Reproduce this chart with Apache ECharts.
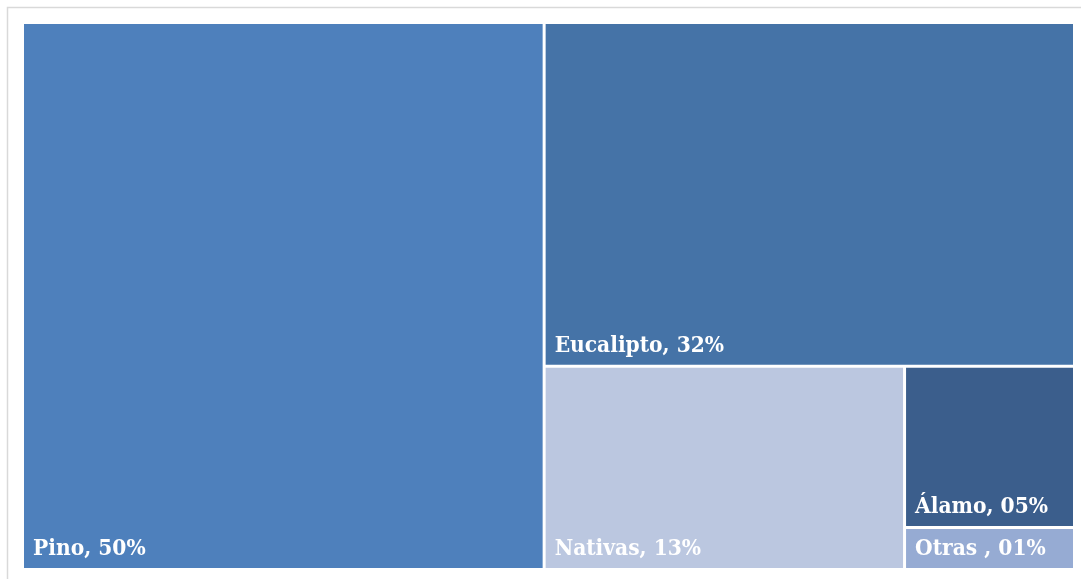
<!DOCTYPE html>
<html>
<head>
<meta charset="utf-8">
<script src="https://cdn.jsdelivr.net/npm/echarts@6/dist/echarts.min.js"></script>
<style>
  html, body { margin: 0; padding: 0; background: #fff; }
  #chart { width: 1081px; height: 579px; }
</style>
</head>
<body>
<div id="chart"></div>
<script>
// superficie por especie
const species = ['Pino', 'Eucalipto', 'Nativas', 'Álamo', 'Otras ']
const shares = [47.9, 30.6, 12.3, 4.6, 1.2]
const labels = ['50%', '32%', '13%', '05%', '01%']
const colors = ['#4e80bc', '#4573a7', '#bbc7e0', '#3b5e8c', '#96abd3']

const myChart = echarts.init(document.getElementById('chart'))

const data = species.map((name, i) => ({
  name: name,
  value: shares[i],
  pct: labels[i],
  itemStyle: { color: colors[i] }
}))

myChart.setOption({
  animation: false,
  graphic: [{
    type: 'rect',
    shape: { x: 7.5, y: 7.5, width: 1090, height: 600 },
    style: { fill: 'none', stroke: '#d9d9d9', lineWidth: 1.5 },
    silent: true
  }],
  series: [{
    type: 'treemap',
    left: 24,
    top: 24,
    width: 1049,
    height: 544,
    squareRatio: 1,
    roam: false,
    nodeClick: false,
    breadcrumb: { show: false },
    itemStyle: { borderWidth: 0, gapWidth: 3, borderColor: '#fff' },
    label: {
      show: true,
      position: 'insideBottomLeft',
      padding: [0, 0, 7, 9],
      overflow: 'none',
      fontFamily: '"DejaVu Serif Condensed", "DejaVu Serif", serif',
      fontWeight: 'bold',
      fontSize: 22.5,
      color: '#fff',
      formatter: p => p.name + ', ' + p.data.pct
    },
    data: data
  }]
})
</script>
</body>
</html>
